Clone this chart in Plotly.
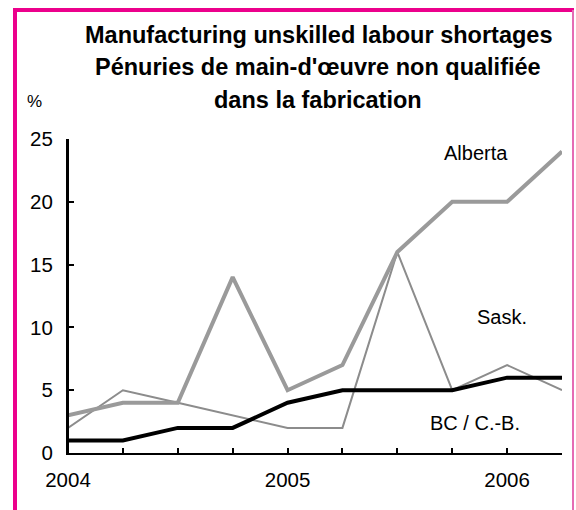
import plotly.graph_objects as go

quarters = ["2004 Q1", "2004 Q2", "2004 Q3", "2004 Q4",
            "2005 Q1", "2005 Q2", "2005 Q3", "2005 Q4",
            "2006 Q1", "2006 Q2"]
year_labels = ["2004", "", "", "", "2005", "", "", "", "2006", ""]

alberta = [3, 4, 4, 14, 5, 7, 16, 20, 20, 24]
sask = [2, 5, 4, 3, 2, 2, 16, 5, 7, 5]
bc = [1, 1, 2, 2, 4, 5, 5, 5, 6, 6]

title_lines = ["Manufacturing unskilled labour shortages",
               "Pénuries de main-d'œuvre non qualifiée",
               "dans la fabrication"]
series_labels = ["Alberta", "Sask.", "BC / C.-B."]

W, H = 576, 510
L, R, T, B = 68, 562, 139, 453
FONT = "Liberation Sans, Arial, sans-serif"

def px(x):
    return (x - L) / (R - L)

def py(y):
    return (B - y) / (B - T)

xs = list(range(len(quarters)))

fig = go.Figure()
fig.add_trace(go.Scatter(x=xs, y=sask, mode="lines",
                         line=dict(color="#8c8c8c", width=2), name=series_labels[1]))
fig.add_trace(go.Scatter(x=xs, y=alberta, mode="lines",
                         line=dict(color="#9a9a9a", width=4), name=series_labels[0]))
fig.add_trace(go.Scatter(x=xs, y=bc, mode="lines",
                         line=dict(color="#000000", width=4), name=series_labels[2]))

annotations = []
title_y = [35, 67, 100]
for txt, yy in zip(title_lines, title_y):
    annotations.append(dict(text="<b>" + txt + "</b>", xref="paper", yref="paper",
                            x=px(318), y=py(yy), xanchor="center", yanchor="middle",
                            showarrow=False, font=dict(family=FONT, size=23.5, color="#000")))
annotations.append(dict(text="%", xref="paper", yref="paper", x=px(34), y=py(102),
                        xanchor="center", yanchor="middle", showarrow=False,
                        font=dict(family=FONT, size=17, color="#000")))
for txt, (cx, cy) in zip(series_labels, [(476, 153), (502, 317), (475, 423)]):
    annotations.append(dict(text=txt, xref="paper", yref="paper", x=px(cx), y=py(cy),
                            xanchor="center", yanchor="middle", showarrow=False,
                            font=dict(family=FONT, size=20, color="#000")))

pink = "#EC008C"
shapes = [
    dict(type="line", xref="paper", yref="paper", x0=px(15), x1=px(15), y0=py(8), y1=py(515),
         line=dict(color=pink, width=4)),
    dict(type="line", xref="paper", yref="paper", x0=px(13), x1=px(574), y0=py(10), y1=py(10),
         line=dict(color=pink, width=4)),
    dict(type="line", xref="paper", yref="paper", x0=px(573), x1=px(573), y0=py(10), y1=py(515),
         line=dict(color="#E46CB4", width=2)),
    dict(type="line", xref="paper", yref="paper", x0=0, x1=0, y0=0, y1=1,
         line=dict(color="#000", width=2), layer="above"),
]

fig.update_layout(
    width=W, height=H,
    margin=dict(l=L, r=W - R, t=T, b=H - B, pad=0),
    paper_bgcolor="white", plot_bgcolor="white",
    showlegend=False,
    annotations=annotations, shapes=shapes,
    font=dict(family=FONT, size=20, color="#000"),
)
fig.update_xaxes(range=[0, len(quarters) - 1], tickvals=xs, ticktext=year_labels,
                 ticks="inside", ticklen=5, tickwidth=2, tickcolor="#000",
                 showline=True, linecolor="#000", linewidth=2,
                 showgrid=False, zeroline=False, ticklabelstandoff=7,
                 tickfont=dict(family=FONT, size=20.5, color="#000"))
fig.update_yaxes(range=[0, 25], tickvals=[0, 5, 10, 15, 20, 25],
                 ticks="inside", ticklen=6, tickwidth=2, tickcolor="#000",
                 showline=True, linecolor="#000", linewidth=2,
                 showgrid=False, zeroline=False, ticklabelstandoff=9,
                 tickfont=dict(family=FONT, size=20.5, color="#000"))

fig.write_html("out.html", config={"displayModeBar": False},
               post_script="document.body.style.margin='0';document.body.style.overflow='hidden';")
